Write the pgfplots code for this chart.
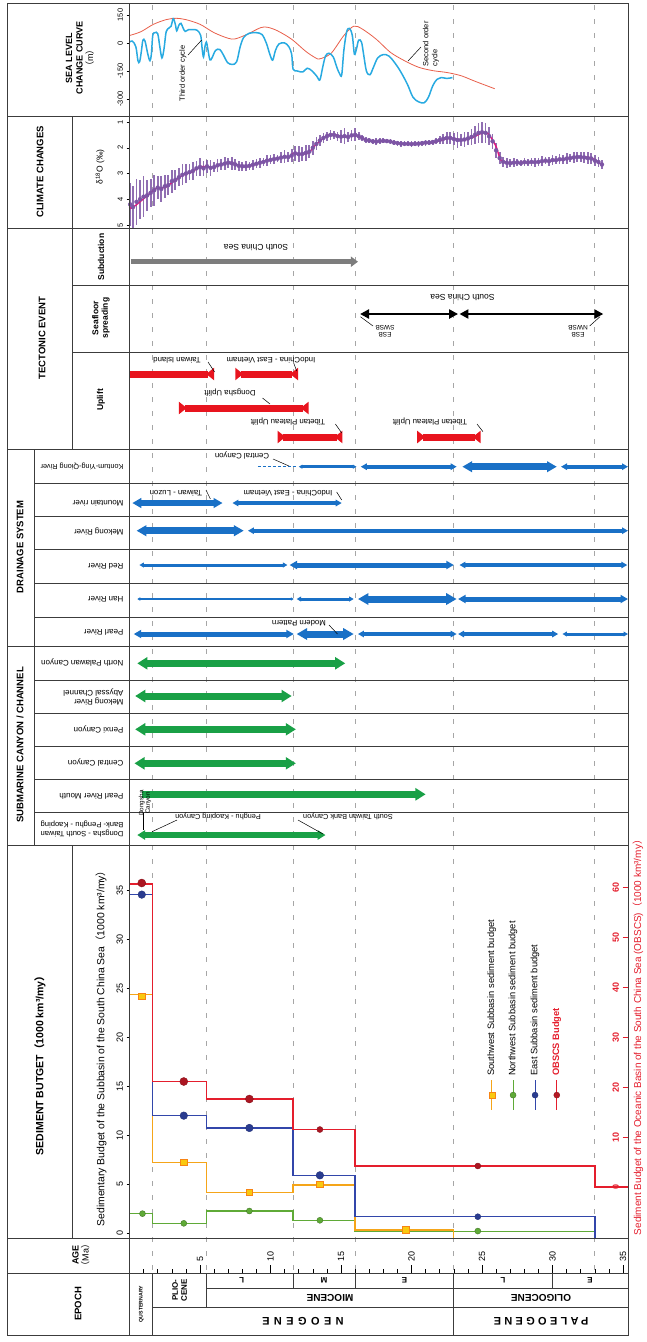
\documentclass[border=0pt]{standalone}
\usepackage{fontspec}
\setmainfont{Liberation Sans}
\newfontfamily\cjk{Noto Sans CJK SC}
\usepackage{pgfplots}
\pgfplotsset{compat=1.18}
\usetikzlibrary{arrows.meta}
\definecolor{sealred}{RGB}{232,95,75}
\definecolor{sealblue}{RGB}{40,170,225}
\definecolor{magline}{RGB}{228,20,125}
\definecolor{purp}{RGB}{125,85,165}
\definecolor{upred}{RGB}{232,20,30}
\definecolor{drblue}{RGB}{25,112,198}
\definecolor{cgreen}{RGB}{25,160,70}
\definecolor{obred}{RGB}{228,30,45}
\definecolor{ebl}{RGB}{50,70,170}
\definecolor{swor}{RGB}{245,165,25}
\definecolor{nwgr}{RGB}{95,170,55}
\definecolor{frame}{RGB}{60,60,60}
\definecolor{sgray}{RGB}{125,125,125}
\newcommand{\fs}[1]{\fontsize{#1}{#1}\selectfont}
\newcommand{\fsl}[2]{\fontsize{#1}{#2}\selectfont}
\newcommand{\lp}{{\cjk （}}
\newcommand{\rp}{{\cjk ）}}
\pgfplotsset{
  agebase/.style={scale only axis, width=498.5pt, xmin=0, xmax=35.35, anchor=north west,
    /pgf/number format/assume math mode=true},
  darr/.style={line width=#1, arrows={Triangle[length=0pt 1.5,width=0pt 1.6]-Triangle[length=0pt 1.5,width=0pt 1.6]}},
  garr/.style={cgreen, line width=#1, arrows={Triangle[length=0pt 1.45,width=0pt 1.7]-Triangle[length=0pt 1.45,width=0pt 1.7]}},
  upbar/.style={upred, line width=7pt, arrows={Triangle[reversed,length=8pt,width=12pt]-Triangle[reversed,length=8pt,width=12pt]}},
}
\begin{document}
\begin{tikzpicture}[x=1pt,y=1pt]
% dashed epoch lines
\foreach \a in {1.65,5.45,11.6,16,23,33}{
  \draw[gray!70, line width=0.7pt, dash pattern=on 5pt off 9pt] ({129.5+14.1*\a},-5) -- ({129.5+14.1*\a},-1273);
}
% ---------------- Sea level
\begin{axis}[agebase, at={(129.5pt,-3pt)}, height=113pt, ymin=-391, ymax=214,
  axis x line=none, axis y line*=left, axis line style={draw=none},
  ytick={-300,-150,0,150}, tick align=outside, major tick length=3pt, tick style={black, line width=0.5pt},
  yticklabel style={rotate=90, anchor=south, font=\fs{7.5}}, clip=false]
\addplot[sealred, line width=0.8pt, smooth] coordinates {
(0.0,40) (0.8,60) (1.7,100) (2.6,125) (3.3,132) (4.0,125) (5.0,100) (6.0,55) (7.0,25) (7.5,22)
(8.3,45) (9.3,82) (9.8,84) (10.5,65) (11.5,20) (12.5,-45) (13.2,-80) (13.5,-85) (14.3,-55)
(15.2,40) (15.9,90) (16.5,75) (17.5,20) (18.5,-50) (19.5,-95) (20.5,-130) (21.5,-148)
(22.5,-158) (23.5,-175) (24.5,-205) (25.9,-245)};
\addplot[sealblue, line width=1.5pt, smooth, tension=0.55] coordinates {
(0.0,5) (0.2,10) (0.45,-20) (0.6,-95) (0.72,-100) (0.85,-40) (0.95,15) (1.1,10) (1.3,-60)
(1.45,-95) (1.55,-60) (1.65,40) (1.8,55) (2.0,50) (2.15,-20) (2.3,-80) (2.45,-30) (2.6,60)
(2.8,80) (2.95,90) (3.1,130) (3.25,100) (3.35,65) (3.5,95) (3.65,105) (3.8,80) (3.95,62)
(4.2,72) (4.5,72) (4.8,68) (5.05,40) (5.15,-30) (5.25,-75) (5.35,-20) (5.45,5) (5.55,-30)
(5.7,-90) (5.85,-80) (6.1,-40) (6.4,-35) (6.7,-70) (6.95,-105) (7.3,-115) (7.6,-100)
(7.85,-20) (8.1,30) (8.5,52) (9.0,55) (9.4,45) (9.7,0) (9.95,-60) (10.15,-92) (10.35,-40)
(10.6,-5) (11.0,0) (11.3,-20) (11.5,-60) (11.6,-140) (11.9,-150) (12.3,-155) (12.6,-135)
(12.95,-150) (13.3,-180) (13.5,-198) (13.7,-130) (13.9,-70) (14.15,-55) (14.45,-75)
(14.7,-130) (14.9,-165) (15.05,-170) (15.2,-40) (15.4,60) (15.6,78) (15.8,40) (15.95,-60)
(16.1,-30) (16.25,15) (16.45,5) (16.6,-60) (16.8,-150) (17.05,-170) (17.3,-130) (17.6,-80)
(18.0,-62) (18.4,-70) (18.8,-105) (19.2,-150) (19.7,-220) (20.1,-290) (20.5,-315)
(20.9,-320) (21.2,-290) (21.5,-230) (21.8,-195) (22.1,-185) (22.5,-190) (22.9,-185)};
\end{axis}
% ---------------- Climate
\begin{axis}[agebase, at={(129.5pt,-116pt)}, height=112pt, ymin=0.767, ymax=5.117, y dir=reverse,
  axis x line=none, axis y line*=left, axis line style={draw=none},
  ytick={1,2,3,4,5}, tick align=outside, major tick length=3pt, tick style={black, line width=0.5pt},
  yticklabel style={rotate=90, anchor=south, font=\fs{7.5}}, clip=false]
\addplot[only marks, mark=none, purp, error bars/.cd, y dir=both, y explicit, error mark=none,
  error bar style={purp, line width=1.7pt, opacity=0.85}] coordinates {
(0.05,4.2) +- (0,0.85) (0.25,4.3) +- (0,0.8) (0.5,4.1) +- (0,0.9) (0.75,4.0) +- (0,0.75)
(1.0,3.9) +- (0,0.8) (1.25,3.85) +- (0,0.6) (1.5,3.75) +- (0,0.55) (1.75,3.65) +- (0,0.6)
(2.0,3.55) +- (0,0.45) (2.25,3.6) +- (0,0.5) (2.5,3.5) +- (0,0.45) (2.75,3.45) +- (0,0.4)
(3.0,3.3) +- (0,0.45) (3.25,3.25) +- (0,0.4) (3.5,3.15) +- (0,0.35) (3.75,3.05) +- (0,0.4)
(4.0,3.0) +- (0,0.35) (4.25,2.95) +- (0,0.3) (4.5,2.9) +- (0,0.35) (4.75,2.8) +- (0,0.3)
(5.0,2.75) +- (0,0.35) (5.25,2.8) +- (0,0.3) (5.5,2.72) +- (0,0.25) (5.75,2.78) +- (0,0.3)
(6.0,2.75) +- (0,0.2) (6.25,2.68) +- (0,0.25) (6.5,2.65) +- (0,0.2) (6.75,2.62) +- (0,0.25)
(7.0,2.58) +- (0,0.2) (7.25,2.6) +- (0,0.25) (7.5,2.65) +- (0,0.2) (7.75,2.7) +- (0,0.2)
(8.0,2.72) +- (0,0.18) (8.25,2.72) +- (0,0.2) (8.5,2.7) +- (0,0.15) (8.75,2.66) +- (0,0.2)
(9.0,2.62) +- (0,0.18) (9.25,2.58) +- (0,0.2) (9.5,2.55) +- (0,0.15) (9.75,2.5) +- (0,0.2)
(10.0,2.47) +- (0,0.18) (10.25,2.44) +- (0,0.2) (10.5,2.42) +- (0,0.15) (10.75,2.38) +- (0,0.2)
(11.0,2.35) +- (0,0.25) (11.25,2.36) +- (0,0.2) (11.5,2.3) +- (0,0.25) (11.75,2.22) +- (0,0.3)
(12.0,2.25) +- (0,0.3) (12.25,2.24) +- (0,0.28) (12.5,2.2) +- (0,0.3) (12.75,2.15) +- (0,0.25)
(13.0,2.0) +- (0,0.28) (13.25,1.85) +- (0,0.25) (13.5,1.72) +- (0,0.22) (13.75,1.62) +- (0,0.2)
(14.0,1.55) +- (0,0.18) (14.25,1.5) +- (0,0.2) (14.5,1.5) +- (0,0.15) (14.75,1.55) +- (0,0.18)
(15.0,1.57) +- (0,0.25) (15.25,1.55) +- (0,0.3) (15.5,1.58) +- (0,0.2) (15.75,1.52) +- (0,0.2)
(16.0,1.5) +- (0,0.25) (16.25,1.55) +- (0,0.15) (16.5,1.62) +- (0,0.12) (16.75,1.7) +- (0,0.12)
(17.0,1.72) +- (0,0.1) (17.25,1.75) +- (0,0.1) (17.5,1.76) +- (0,0.12) (17.75,1.74) +- (0,0.1)
(18.0,1.73) +- (0,0.1) (18.25,1.74) +- (0,0.08) (18.5,1.76) +- (0,0.1) (18.75,1.8) +- (0,0.1)
(19.0,1.82) +- (0,0.1) (19.25,1.84) +- (0,0.12) (19.5,1.85) +- (0,0.1) (19.75,1.85) +- (0,0.1)
(20.0,1.86) +- (0,0.12) (20.25,1.85) +- (0,0.1) (20.5,1.84) +- (0,0.12) (20.75,1.82) +- (0,0.1)
(21.0,1.8) +- (0,0.12) (21.25,1.8) +- (0,0.1) (21.5,1.78) +- (0,0.1) (21.75,1.74) +- (0,0.12)
(22.0,1.7) +- (0,0.15) (22.25,1.65) +- (0,0.2) (22.5,1.62) +- (0,0.25) (22.75,1.62) +- (0,0.25)
(23.0,1.66) +- (0,0.25) (23.25,1.7) +- (0,0.3) (23.5,1.7) +- (0,0.25) (23.75,1.68) +- (0,0.3)
(24.0,1.64) +- (0,0.25) (24.25,1.58) +- (0,0.3) (24.5,1.5) +- (0,0.35) (24.75,1.42) +- (0,0.4)
(25.0,1.4) +- (0,0.4) (25.25,1.42) +- (0,0.4) (25.5,1.55) +- (0,0.35) (25.75,1.75) +- (0,0.3)
(26.0,2.1) +- (0,0.3) (26.25,2.4) +- (0,0.25) (26.5,2.55) +- (0,0.2) (26.75,2.58) +- (0,0.2)
(27.0,2.6) +- (0,0.15) (27.25,2.58) +- (0,0.18) (27.5,2.57) +- (0,0.15) (27.75,2.6) +- (0,0.12)
(28.0,2.56) +- (0,0.15) (28.25,2.57) +- (0,0.12) (28.5,2.55) +- (0,0.15) (28.75,2.56) +- (0,0.18)
(29.0,2.55) +- (0,0.15) (29.25,2.52) +- (0,0.2) (29.5,2.5) +- (0,0.15) (29.75,2.52) +- (0,0.18)
(30.0,2.48) +- (0,0.2) (30.25,2.48) +- (0,0.15) (30.5,2.45) +- (0,0.2) (30.75,2.45) +- (0,0.18)
(31.0,2.42) +- (0,0.2) (31.25,2.4) +- (0,0.15) (31.5,2.38) +- (0,0.2) (31.75,2.36) +- (0,0.18)
(32.0,2.36) +- (0,0.2) (32.25,2.38) +- (0,0.2) (32.5,2.4) +- (0,0.22) (32.75,2.42) +- (0,0.2)
(33.0,2.5) +- (0,0.2) (33.25,2.55) +- (0,0.2) (33.5,2.65) +- (0,0.18)};
\addplot[magline, line width=1.4pt, smooth] coordinates {
(0.0,4.3) (0.15,4.35) (0.74,4.1) (1.45,3.77) (1.93,3.57) (2.5,3.55) (3.1,3.32) (3.8,3.06)
(4.4,2.95) (5.0,2.74) (5.6,2.74) (5.94,2.77) (6.4,2.67) (7.1,2.57) (7.7,2.67) (8.2,2.74)
(8.8,2.67) (9.5,2.54) (10.2,2.44) (10.9,2.35) (11.4,2.35) (11.6,2.22) (12.2,2.24) (12.7,2.19)
(13.3,1.83) (14.0,1.54) (14.45,1.48) (15.05,1.57) (15.5,1.57) (16.1,1.53) (16.8,1.7)
(17.5,1.76) (18.2,1.73) (19.2,1.83) (20.4,1.84) (21.5,1.8) (22.7,1.63) (23.6,1.7) (24.2,1.63)
(25.1,1.41) (25.5,1.5) (26.0,1.96) (26.3,2.45) (26.7,2.57) (27.75,2.57) (29.2,2.54)
(30.7,2.45) (31.9,2.35) (32.8,2.41) (33.5,2.67)};
\end{axis}
% ---------------- Tectonic / drainage / canyon bars
\begin{axis}[agebase, at={(129.5pt,-228pt)}, height=617pt, ymin=228, ymax=845, y dir=reverse,
  axis lines=none, clip=false]
\addplot[sgray, line width=5pt, arrows={-Triangle[length=7pt,width=10pt]}] coordinates {(0.1,261.7) (16.2,261.7)};
\addplot[black, line width=2.6pt, arrows={Triangle[length=9pt,width=9pt]-Triangle[length=9pt,width=9pt]}] coordinates {(16.35,314) (23.3,314)};
\addplot[black, line width=2.6pt, arrows={Triangle[length=9pt,width=9pt]-Triangle[length=9pt,width=9pt]}] coordinates {(23.4,314) (33.6,314)};
\addplot[upred, line width=7pt, arrows={-Triangle[reversed,length=8pt,width=12pt]}] coordinates {(0.0,374) (6.0,374)};
\addplot[upbar] coordinates {(7.5,374) (11.95,374)};
\addplot[upbar] coordinates {(3.5,408) (12.7,408)};
\addplot[upbar] coordinates {(10.5,437) (15.1,437)};
\addplot[upbar] coordinates {(20.4,437) (24.9,437)};
\addplot[drblue, line width=1.2pt, dash pattern=on 3pt off 2pt] coordinates {(9.1,466.7) (11.8,466.7)};
\addplot[drblue, darr=2.5pt] coordinates {(12.0,466.7) (16.1,466.7)};
\addplot[drblue, darr=4pt] coordinates {(16.4,466.7) (23.2,466.7)};
\addplot[drblue, darr=6.5pt] coordinates {(23.6,466.7) (30.3,466.7)};
\addplot[drblue, darr=4pt] coordinates {(30.6,466.7) (35.35,466.7)};
\addplot[drblue, darr=6pt] coordinates {(0.2,503) (6.6,503)};
\addplot[drblue, darr=4pt] coordinates {(7.3,503) (15.05,503)};
\addplot[drblue, darr=6.5pt] coordinates {(0.5,530.7) (8.1,530.7)};
\addplot[drblue, darr=4pt] coordinates {(8.4,530.7) (35.35,530.7)};
\addplot[drblue, darr=3pt] coordinates {(0.7,565) (11.2,565)};
\addplot[drblue, darr=5pt] coordinates {(11.35,565) (23.0,565)};
\addplot[drblue, darr=4pt] coordinates {(23.4,565) (35.3,565)};
\addplot[drblue, darr=2pt] coordinates {(0.55,599) (11.65,599)};
\addplot[drblue, darr=3pt] coordinates {(11.85,599) (15.9,599)};
\addplot[drblue, darr=7pt] coordinates {(16.2,599) (23.2,599)};
\addplot[drblue, darr=5pt] coordinates {(23.3,599) (35.35,599)};
\addplot[drblue, darr=5pt] coordinates {(0.3,634) (11.65,634)};
\addplot[drblue, darr=7pt] coordinates {(11.85,634) (15.9,634)};
\addplot[drblue, darr=4pt] coordinates {(16.2,634) (23.2,634)};
\addplot[drblue, darr=4pt] coordinates {(23.3,634) (30.4,634)};
\addplot[drblue, darr=3pt] coordinates {(30.7,634) (35.35,634)};
\addplot[garr=7pt] coordinates {(0.55,663.3) (15.3,663.3)};
\addplot[garr=7pt] coordinates {(0.4,696) (11.5,696)};
\addplot[garr=7pt] coordinates {(0.4,729.3) (11.8,729.3)};
\addplot[garr=7pt] coordinates {(0.35,763.3) (11.8,763.3)};
\addplot[cgreen, line width=7pt, arrows={-Triangle[length=0pt 1.45,width=0pt 1.7]}] coordinates {(0.87,794.3) (21.0,794.3)};
\addplot[garr=5.5pt] coordinates {(0.55,835) (13.9,835)};
\end{axis}
% ---------------- Sediment budget (left scale)
\begin{axis}[agebase, at={(129.5pt,-845pt)}, height=393pt, ymin=-0.51, ymax=39.67,
  axis x line=none, axis y line*=left, axis line style={draw=none},
  ytick={0,5,...,35}, tick align=outside, major tick length=3pt, tick style={black,line width=0.6pt},
  yticklabel style={rotate=90, anchor=south, font=\fs{9}}, clip=false]
\addplot[nwgr, line width=1.3pt, const plot] coordinates {(0,1.98) (1.65,0.99) (5.45,2.25) (11.6,1.26) (16,0.17) (33,0.17)};
\addplot[swor, line width=1.3pt, const plot] coordinates {(0,24.4) (1.65,7.23) (5.45,4.16) (11.6,4.9) (16,0.3) (23,-0.51)};
\addplot[ebl, line width=1.3pt, const plot] coordinates {(0,34.6) (1.65,12.0) (5.45,10.74) (11.6,5.9) (16,1.67) (33,-0.51)};
\addplot[only marks, mark=*, mark size=3pt, mark options={fill=nwgr, draw=nwgr!70!black}] coordinates {(0.92,1.98) (3.85,0.99) (8.5,2.25) (13.5,1.3) (24.7,0.2)};
\addplot[only marks, mark=square*, mark size=3.3pt, mark options={fill=swor!60!yellow, draw=swor!80!red}] coordinates {(0.87,24.2) (3.85,7.23) (8.5,4.16) (13.5,5.0) (19.6,0.35)};
\addplot[only marks, mark=*, mark size=3.8pt, mark options={fill=ebl!85!black, draw=ebl!70!black}] coordinates {(0.87,34.6) (3.85,12.0) (8.5,10.74) (13.5,5.9)};
\addplot[only marks, mark=*, mark size=3pt, mark options={fill=ebl!85!black, draw=ebl!70!black}] coordinates {(24.7,1.67)};
\addplot[swor, line width=1pt] coordinates {(25.69,12.6) (25.69,15.6)};
\addplot[only marks, mark=square*, mark size=3pt, mark options={fill=swor!60!yellow, draw=swor!80!red}] coordinates {(25.69,14.1)};
\addplot[nwgr, line width=1pt] coordinates {(27.2,12.6) (27.2,15.6)};
\addplot[only marks, mark=*, mark size=3pt, mark options={fill=nwgr, draw=nwgr!70!black}] coordinates {(27.2,14.1)};
\addplot[ebl, line width=1pt] coordinates {(28.76,12.6) (28.76,15.6)};
\addplot[only marks, mark=*, mark size=3pt, mark options={fill=ebl!85!black, draw=ebl!70!black}] coordinates {(28.76,14.1)};
\addplot[obred, line width=1pt] coordinates {(30.3,12.6) (30.3,15.6)};
\addplot[only marks, mark=*, mark size=3pt, mark options={fill=obred!80!black, draw=obred!60!black}] coordinates {(30.3,14.1)};
\node[rotate=90, anchor=west, font=\fs{9.3}] at (axis cs:25.69,15.7) {Southwest Subbasin sediment budget};
\node[rotate=90, anchor=west, font=\fs{9.3}] at (axis cs:27.2,15.7) {Northwest Subbasin sediment budget};
\node[rotate=90, anchor=west, font=\fs{9.3}] at (axis cs:28.76,15.7) {East Subbasin sediment budget};
\node[rotate=90, anchor=west, font=\fs{9.3}\bfseries, text=obred] at (axis cs:30.3,15.7) {OBSCS Budget};
\end{axis}
% ---------------- OBSCS (right scale)
\begin{axis}[agebase, at={(129.5pt,-845pt)}, height=393pt, ymin=-10.2, ymax=68.4,
  axis lines=none, clip=false]
\addplot[obred, line width=1.3pt, const plot] coordinates {(0,60.6) (1.65,21.1) (5.45,17.6) (11.6,11.5) (16,4.2) (33,0) (35.35,0)};
\addplot[only marks, mark=*, mark size=4pt, mark options={fill=obred!75!black, draw=obred!60!black}] coordinates {(0.87,60.8) (3.85,21.1) (8.5,17.6)};
\addplot[only marks, mark=*, mark size=3pt, mark options={fill=obred!75!black, draw=obred!60!black}] coordinates {(13.5,11.5) (24.7,4.2)};
\end{axis}
\begin{axis}[scale only axis, anchor=north west, at={(627.5pt,-845pt)}, width=1pt, height=393pt,
  xmin=0, xmax=1, ymin=-10.2, ymax=68.4,
  axis x line=none, axis y line*=left, axis line style={draw=none},
  ytick={0,10,...,60}, tick align=outside, major tick length=5pt, tick style={obred, line width=0.7pt},
  yticklabel style={rotate=90, anchor=south, font=\fs{9}\bfseries, text=obred},
  /pgf/number format/assume math mode=true]
\addplot[draw=none] coordinates {(0,0)};
\end{axis}
% ---------------- Age axis
\begin{axis}[agebase, at={(129.5pt,-1238pt)}, height=35pt, ymin=0, ymax=1,
  axis x line*=bottom, axis y line=none, axis line style={draw=none},
  xtick={5,10,...,35}, minor xtick={1,2,...,35}, tick align=inside,
  major tick length=8pt, minor tick length=4pt, tick style={black, line width=0.6pt},
  xticklabel style={rotate=90, anchor=west, font=\fs{9}}, xticklabel shift=-8pt]
\addplot[draw=none] coordinates {(0,0)};
\end{axis}
% ---------------- table frame
\begin{scope}[draw=frame, line width=0.9pt]
\draw (7,-3) rectangle (628,-1335);
\draw (129.5,-3) -- (129.5,-1335);
\foreach \y in {116,228,449,646,845,1238,1273} \draw (7,-\y) -- (628,-\y);
\foreach \y in {285,352} \draw (72,-\y) -- (628,-\y);
\foreach \y in {483,516,549,583,617,680,713,746,779,812} \draw (34,-\y) -- (628,-\y);
\draw (72,-116) -- (72,-449);
\draw (72,-845) -- (72,-1238);
\draw (34,-449) -- (34,-845);
\draw (206.3,-1288) -- (628,-1288);
\draw (152.8,-1307) -- (628,-1307);
\draw (152.8,-1273) -- (152.8,-1335);
\draw (206.3,-1273) -- (206.3,-1307);
\draw (293.1,-1273) -- (293.1,-1288);
\draw (355.1,-1273) -- (355.1,-1288);
\draw (453.8,-1273) -- (453.8,-1335);
\draw (552.5,-1273) -- (552.5,-1288);
\end{scope}
% ---------------- left labels
\node[rotate=90, align=center, font=\fsl{9}{10.5}] at (80,-58) {\bfseries SEA LEVEL\\\bfseries CHANGE CURVE\\\lp m\rp};
\node[rotate=90, font=\fs{9.5}\bfseries] at (40,-172) {CLIMATE CHANGES};
\node[rotate=90, font=\fs{8.5}] at (100,-167) {δ\textsuperscript{18}O (‰)};
\node[rotate=90, font=\fs{9.5}\bfseries] at (42,-338) {TECTONIC EVENT};
\node[rotate=90, font=\fs{8.5}\bfseries] at (101,-257) {Subduction};
\node[rotate=90, align=center, font=\fsl{8.5}{9.5}\bfseries] at (101,-318) {Seafloor\\spreading};
\node[rotate=90, font=\fs{8.5}\bfseries] at (101,-400) {Uplift};
\node[rotate=90, font=\fs{9.5}\bfseries] at (20,-547) {DRAINAGE SYSTEM};
\node[rotate=90, font=\fs{9.5}\bfseries] at (20,-745) {SUBMARINE CANYON / CHANNEL};
\node[rotate=90, font=\fs{10.5}\bfseries] at (40,-1063) {SEDIMENT BUTGET\lp 1000 km³/my\rp};
\node[rotate=90, font=\fs{10.4}] at (101,-1046) {Sedimentary Budget of the Subbasin of the South China Sea\lp 1000 km³/my\rp};
\node[rotate=90, font=\fs{10}, text=obred] at (638,-1035) {Sediment Budget of the Oceanic Basin of the South China Sea (OBSCS)\lp 1000 km³/my\rp};
\node[rotate=90, align=center, font=\fsl{9}{10}] at (81,-1255) {\bfseries AGE\\\lp Ma\rp};
\node[rotate=90, font=\fs{9.5}\bfseries] at (78,-1304) {EPOCH};
% river names
\begin{scope}[every node/.style={rotate=180, anchor=west, font=\fs{8}}]
\node[font=\fs{7.3}] at (127,-466) {Kontum-Ying-Qiong River};
\node at (127,-503) {Mountain river};
\node at (127,-531.7) {Mekong River};
\node at (127,-566.7) {Red River};
\node at (127,-599) {Han River};
\node at (127,-632.7) {Pearl River};
\node at (127,-663) {North Palawan Canyon};
\node[align=left, font=\fsl{8}{9}] at (127,-697) {Mekong River\\Abyssal Channel};
\node at (127,-730) {Penxi Canyon};
\node at (127,-763) {Central Canyon};
\node at (127,-796.7) {Pearl River Mouth};
\node[align=left, font=\fsl{7.6}{8.6}] at (127,-829) {Dongsha - South Taiwan\\Bank- Penghu - Kaoping};
\end{scope}
% bar annotations (upside down)
\begin{scope}[every node/.style={rotate=180, font=\fs{7.8}}]
\node[font=\fs{8.5}] at (256,-248) {South China Sea};
\node[font=\fs{8.5}] at (462.5,-298) {South China Sea};
\node[align=center, font=\fsl{6.5}{7.5}] at (385,-331) {ESB\\SWSB};
\node[align=center, font=\fsl{6.5}{7.5}] at (578,-331) {ESB\\NWSB};
\node at (177,-360) {Taiwan Island};
\node at (271,-360) {IndoChina - East Vietnam};
\node at (230,-393) {Dongsha Uplift};
\node at (288,-422) {Tibetan Plateau Uplift};
\node at (430,-422) {Tibetan Plateau Uplift};
\node at (242,-456) {Central Canyon};
\node at (176,-493) {Taiwan - Luzon};
\node at (288,-493) {IndoChina - East Vietnam};
\node at (299,-623) {Modern Pattern};
\node[font=\fs{7.3}] at (218,-816) {Penghu - Kaoping Canyon};
\node[font=\fs{7.3}] at (348,-816) {South Taiwan Bank Canyon};
\end{scope}
\begin{scope}[line width=0.5pt]
\draw (360.4,-316.7) -- (373,-326);
\draw (600,-316.7) -- (589.6,-326);
\draw (208,-362) -- (214.6,-372);
\draw (293.7,-363) -- (296.7,-371);
\draw (262.5,-398) -- (270,-404);
\draw (335.4,-424) -- (341.7,-433);
\draw (477,-424) -- (483,-431.7);
\draw (273,-459) -- (289,-466);
\draw (206,-490) -- (210.4,-499);
\draw (336.7,-492) -- (341.7,-500);
\draw (329,-625) -- (337.5,-634);
\draw (177,-820) -- (152,-831.7);
\draw (298,-820) -- (323,-834);
\draw (143,-813) -- (143,-830);
\draw (188,-55) -- (201.7,-40);
\draw (408,-61) -- (421,-47);
\end{scope}
\node[rotate=90, align=center, font=\fsl{6.3}{6.5}] at (145,-803) {Dongsha\\Canyon};
\node[rotate=90, font=\fs{7.5}] at (183,-73.5) {Third order cycle};
\node[rotate=90, anchor=west, align=left, font=\fsl{7.5}{9}] at (431,-70) {Second order\\cycle};
% epoch texts
\node[rotate=90, font=\fs{5.2}\bfseries] at (141.2,-1304) {QUSTERNARY};
\node[rotate=90, align=center, font=\fsl{8}{9}\bfseries] at (179.5,-1290) {PLIO-\\CENE};
\begin{scope}[every node/.style={rotate=180, font=\fs{8}\bfseries}]
\node at (241.7,-1280.7) {L};
\node at (324,-1280.7) {M};
\node at (404.5,-1280.7) {E};
\node at (503,-1280.7) {L};
\node at (590,-1280.7) {E};
\node[font=\fs{10}\bfseries] at (330,-1297.5) {MIOCENE};
\node[font=\fs{10}\bfseries] at (541,-1297.5) {OLIGOCENE};
\node[font=\fs{11}\bfseries\addfontfeature{LetterSpace=40}] at (303,-1321) {NEOGENE};
\node[font=\fs{11}\bfseries\addfontfeature{LetterSpace=30}] at (541,-1321) {PALEOGENE};
\end{scope}
\pgfresetboundingbox
\path[use as bounding box] (0,0) rectangle (647,-1342);
\end{tikzpicture}
\end{document}
